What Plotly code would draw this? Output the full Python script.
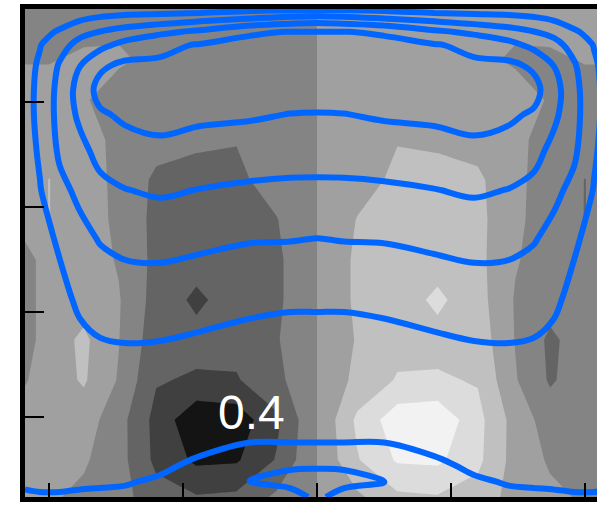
import plotly.graph_objects as go

# ---------------- grayscale (antisymmetric) field ----------------
gray_x = [-1.09, -1.0, -0.87, -0.74, -0.6, -0.45, -0.3, -0.15, 0, 0.15, 0.3, 0.45, 0.6, 0.74, 0.87, 1.0, 1.09]
gray_y = [1.0, 0.947, 0.896, 0.814, 0.732, 0.650, 0.568, 0.486, 0.404, 0.322, 0.240, 0.158, 0.076, 0.0]
gray_z = [
    [-0.10, -0.10, -0.10, -0.10, -0.10, -0.10, -0.10, -0.08, 0, 0.08, 0.10, 0.10, 0.10, 0.10, 0.10, 0.10, 0.10],
    [-0.10, -0.10, -0.05, -0.02, -0.10, -0.10, -0.10, -0.08, 0, 0.08, 0.10, 0.10, 0.10, 0.02, 0.05, 0.10, 0.10],
    [-0.02, -0.02, 0.05, 0.03, -0.05, -0.10, -0.10, -0.08, 0, 0.08, 0.10, 0.10, 0.05, -0.03, -0.05, 0.02, 0.02],
    [0.15, 0.15, 0.02, -0.10, -0.15, -0.15, -0.12, -0.08, 0, 0.08, 0.12, 0.15, 0.15, 0.10, -0.02, -0.15, -0.15],
    [0.15, 0.15, 0.08, -0.05, -0.15, -0.20, -0.24, -0.12, 0, 0.12, 0.24, 0.20, 0.15, 0.05, -0.08, -0.15, -0.15],
    [0.12, 0.255, 0.10, -0.05, -0.30, -0.35, -0.30, -0.15, 0, 0.15, 0.30, 0.35, 0.30, 0.05, -0.10, -0.255, -0.12],
    [0.12, 0.255, 0.12, -0.05, -0.32, -0.38, -0.35, -0.26, 0, 0.26, 0.35, 0.38, 0.32, 0.05, -0.12, -0.255, -0.12],
    [-0.10, 0.12, 0.12, -0.02, -0.32, -0.40, -0.38, -0.30, 0, 0.30, 0.38, 0.40, 0.32, 0.02, -0.12, -0.12, 0.10],
    [-0.10, 0.12, 0.15, 0.02, -0.35, -0.55, -0.38, -0.30, 0, 0.30, 0.38, 0.55, 0.35, -0.02, -0.15, -0.12, 0.10],
    [-0.10, 0.12, 0.30, 0.01, -0.40, -0.42, -0.42, -0.27, 0, 0.27, 0.42, 0.42, 0.40, -0.01, -0.30, -0.12, 0.10],
    [-0.02, 0.12, 0.28, -0.02, -0.48, -0.53, -0.52, -0.32, 0, 0.32, 0.52, 0.53, 0.48, 0.02, -0.28, -0.12, 0.02],
    [0.10, 0.12, 0.12, -0.15, -0.58, -0.95, -0.90, -0.55, 0, 0.55, 0.90, 0.95, 0.58, 0.15, -0.12, -0.12, -0.10],
    [0.10, 0.10, 0.03, -0.15, -0.56, -0.80, -0.78, -0.48, 0, 0.48, 0.78, 0.80, 0.56, 0.15, -0.03, -0.10, -0.10],
    [0.08, 0.03, -0.05, -0.15, -0.40, -0.48, -0.45, -0.20, 0, 0.20, 0.45, 0.48, 0.40, 0.15, 0.05, -0.03, -0.08],
]
gray_colors = ['#141414', '#404040', '#646464', '#848484', '#a0a0a0', '#c0c0c0', '#dcdcdc', '#f2f2f2']

# ---------------- blue (symmetric) field ----------------
blue_x = [-1.09, -1.034, -0.959, -0.884, -0.81, -0.716, -0.586, -0.437, -0.25, -0.101, 0,
          0.101, 0.25, 0.437, 0.586, 0.716, 0.81, 0.884, 0.959, 1.034, 1.09]
blue_y = [1.0, 0.977, 0.953, 0.926, 0.885, 0.834, 0.783, 0.711, 0.629, 0.527, 0.404, 0.311,
          0.199, 0.113, 0.066, 0.031, 0.0]
blue_z = [
    [0.42, 0.45, 0.47, 0.52, 0.60, 0.60, 0.60, 0.60, 0.69, 0.72, 0.70, 0.72, 0.69, 0.60, 0.60, 0.60, 0.60, 0.52, 0.47, 0.45, 0.42],
    [0.48, 0.55, 0.65, 0.79, 0.88, 0.97, 1.04, 1.15, 1.29, 1.42, 1.47, 1.42, 1.29, 1.15, 1.04, 0.97, 0.88, 0.79, 0.65, 0.55, 0.48],
    [0.55, 0.67, 0.85, 1.10, 1.21, 1.35, 1.52, 1.68, 1.97, 2.01, 2.01, 2.01, 1.97, 1.68, 1.52, 1.35, 1.21, 1.10, 0.85, 0.67, 0.55],
    [0.60, 0.78, 1.07, 1.32, 1.49, 1.73, 1.91, 2.03, 2.07, 2.09, 2.09, 2.09, 2.07, 2.03, 1.91, 1.73, 1.49, 1.32, 1.07, 0.78, 0.60],
    [0.63, 0.86, 1.24, 1.59, 1.93, 2.08, 2.06, 2.14, 2.19, 2.23, 2.23, 2.23, 2.19, 2.14, 2.06, 2.08, 1.93, 1.59, 1.24, 0.86, 0.63],
    [0.65, 0.90, 1.32, 1.75, 2.12, 2.10, 2.15, 2.15, 2.17, 2.18, 2.18, 2.18, 2.17, 2.15, 2.15, 2.10, 2.12, 1.75, 1.32, 0.90, 0.65],
    [0.65, 0.90, 1.33, 1.68, 1.95, 2.06, 2.10, 2.06, 2.04, 1.99, 1.98, 1.99, 2.04, 2.06, 2.10, 2.06, 1.95, 1.68, 1.33, 0.90, 0.65],
    [0.63, 0.85, 1.27, 1.49, 1.73, 1.86, 1.93, 1.87, 1.81, 1.78, 1.77, 1.78, 1.81, 1.87, 1.93, 1.86, 1.73, 1.49, 1.27, 0.85, 0.63],
    [0.60, 0.78, 1.10, 1.29, 1.49, 1.59, 1.65, 1.59, 1.54, 1.52, 1.52, 1.52, 1.54, 1.59, 1.65, 1.59, 1.49, 1.29, 1.10, 0.78, 0.60],
    [0.56, 0.70, 0.84, 1.08, 1.22, 1.30, 1.33, 1.28, 1.22, 1.21, 1.19, 1.21, 1.22, 1.28, 1.33, 1.30, 1.22, 1.08, 0.84, 0.70, 0.56],
    [0.52, 0.62, 0.72, 0.85, 0.95, 1.00, 0.99, 0.94, 0.87, 0.84, 0.84, 0.84, 0.87, 0.94, 0.99, 1.00, 0.95, 0.85, 0.72, 0.62, 0.52],
    [0.49, 0.57, 0.65, 0.73, 0.77, 0.79, 0.78, 0.74, 0.70, 0.69, 0.69, 0.69, 0.70, 0.74, 0.78, 0.79, 0.77, 0.73, 0.65, 0.57, 0.49],
    [0.46, 0.51, 0.56, 0.61, 0.63, 0.64, 0.62, 0.57, 0.53, 0.53, 0.53, 0.53, 0.53, 0.57, 0.62, 0.64, 0.63, 0.61, 0.56, 0.51, 0.46],
    [0.44, 0.47, 0.49, 0.51, 0.52, 0.52, 0.50, 0.45, 0.41, 0.41, 0.41, 0.41, 0.41, 0.45, 0.50, 0.52, 0.52, 0.51, 0.49, 0.47, 0.44],
    [0.42, 0.44, 0.45, 0.46, 0.46, 0.46, 0.43, 0.37, 0.07, 0.03, 0.03, 0.03, 0.07, 0.37, 0.43, 0.46, 0.46, 0.46, 0.45, 0.44, 0.42],
    [0.41, 0.42, 0.42, 0.42, 0.42, 0.41, 0.38, 0.31, -0.01, -0.07, -0.10, -0.07, -0.01, 0.31, 0.38, 0.41, 0.42, 0.42, 0.42, 0.42, 0.41],
    [0.39, 0.39, 0.39, 0.38, 0.37, 0.37, 0.33, 0.25, 0.12, 0.10, -0.05, 0.10, 0.12, 0.25, 0.33, 0.37, 0.37, 0.38, 0.39, 0.39, 0.39],
]
label_text = "0.4"
label_pos = (-0.246, 0.174)

x_ticks = [-1, -0.5, 0, 0.5, 1]
x_range = [-1.0896, 1.0448]   # the field continues past the right edge of the window

n = len(gray_colors)
gray_scale = [[i / (n - 1), c] for i, c in enumerate(gray_colors)]

fig = go.Figure()
fig.add_trace(go.Contour(
    x=gray_x, y=gray_y[::-1], z=gray_z[::-1],
    contours=dict(start=-0.75, end=0.75, size=0.25, coloring='fill', showlines=False),
    line=dict(width=0, smoothing=0),
    colorscale=gray_scale, showscale=False, hoverinfo='skip'))
fig.add_trace(go.Contour(
    x=blue_x, y=blue_y[::-1], z=blue_z[::-1],
    contours=dict(start=0.0, end=2.0, size=0.4, coloring='lines'),
    line=dict(width=6, smoothing=1),
    colorscale=[[0, '#0066ff'], [1, '#0066ff']], showscale=False, hoverinfo='skip'))

fig.add_annotation(x=label_pos[0], y=label_pos[1], text=label_text, showarrow=False,
                   font=dict(family="Liberation Sans, Arial, sans-serif", size=48, color='white'),
                   xanchor='center', yanchor='middle')

fig.update_layout(
    width=597, height=508,
    margin=dict(l=25, r=0, t=9, b=11, pad=0),
    paper_bgcolor='white', plot_bgcolor='white',
    showlegend=False,
    xaxis=dict(range=x_range, showline=True, linewidth=5, linecolor='black', mirror=True,
               ticks='inside', ticklen=14, tickwidth=2, tickcolor='black', tickvals=x_ticks,
               showticklabels=False, showgrid=False, zeroline=False),
    xaxis2=dict(range=x_range, overlaying='x', side='top', anchor='y',
                ticks='inside', ticklen=21, tickwidth=2, tickcolor='black', tickvals=x_ticks,
                showticklabels=False, showgrid=False, zeroline=False, showline=False),
    yaxis=dict(range=[0, 1], showline=True, linewidth=5, linecolor='black', mirror=False,
               ticks='inside', ticklen=19, tickwidth=2, tickcolor='black', tick0=0.1646, dtick=0.21516,
               showticklabels=False, showgrid=False, zeroline=False),
    yaxis2=dict(range=[0, 1], overlaying='y', side='right', anchor='x',
                ticks='inside', ticklen=8, tickwidth=2, tickcolor='black', tick0=0.1646, dtick=0.21516,
                showticklabels=False, showgrid=False, zeroline=False, showline=False),
)

fig.write_html("out.html", config={'displayModeBar': False})
